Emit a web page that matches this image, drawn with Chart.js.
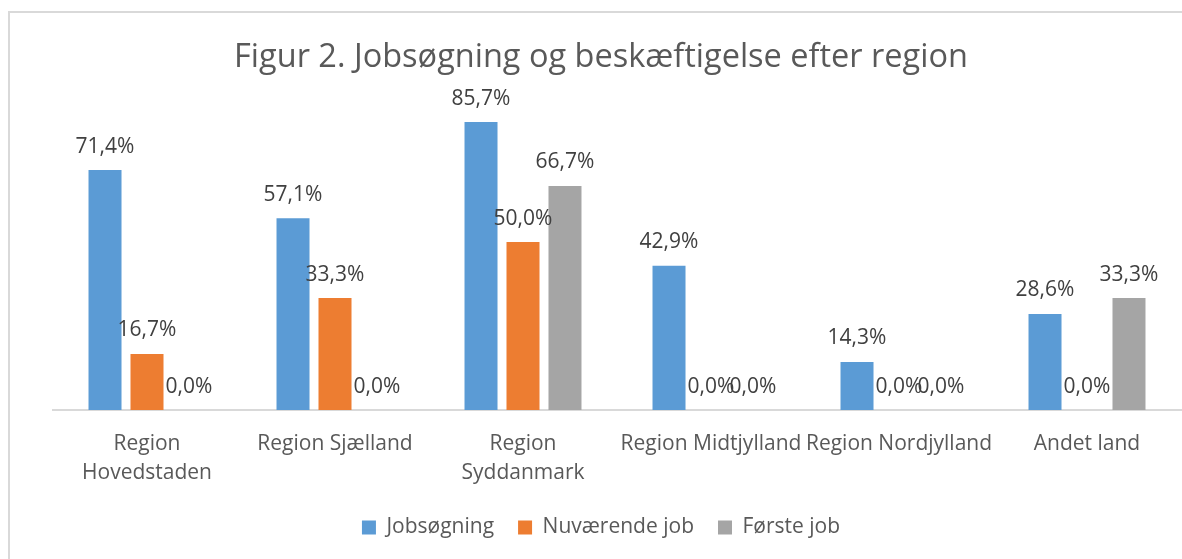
<!DOCTYPE html>
<html>
<head>
<meta charset="utf-8">
<script src="https://cdn.jsdelivr.net/npm/chart.js@4"></script>
<style>
  html, body { margin: 0; padding: 0; overflow: hidden; background: #fff; }
  #frame {
    position: absolute; left: 8px; top: 11px; width: 1400px; height: 800px;
    border-left: 2px solid #d9d9d9; border-top: 2px solid #d9d9d9;
  }
  #chart { position: absolute; left: 10px; top: 13px; }
</style>
</head>
<body>
<div id="frame"></div>
<canvas id="chart" width="1182" height="535"></canvas>
<script>
// data (percent)
const regions = [
  ["Region", "Hovedstaden"],
  "Region Sjælland",
  ["Region", "Syddanmark"],
  "Region Midtjylland",
  "Region Nordjylland",
  "Andet land",
];
const jobsogning = [71.4, 57.1, 85.7, 42.9, 14.3, 28.6];
const nuvaerendeJob = [16.7, 33.3, 50.0, 0.0, 0.0, 0.0];
const forsteJob = [0.0, 0.0, 66.7, 0.0, 0.0, 33.3];

const FONT = "'Open Sans', sans-serif";
const GREY_TEXT = "#595959";

function pct(v) {
  return v.toFixed(1).replace(".", ",") + "%";
}

// value labels above each bar (Excel "outside end" style)
const barLabels = {
  id: "barLabels",
  afterDatasetsDraw(chart) {
    const ctx = chart.ctx;
    ctx.save();
    ctx.font = "21px " + FONT;
    ctx.fillStyle = "#404040";
    ctx.textAlign = "center";
    ctx.textBaseline = "alphabetic";
    chart.data.datasets.forEach((ds, i) => {
      chart.getDatasetMeta(i).data.forEach((bar, j) => {
        ctx.fillText(pct(ds.data[j]), bar.x, bar.y - 17.5);
      });
    });
    ctx.restore();
  },
};

new Chart(document.getElementById("chart"), {
  type: "bar",
  data: {
    labels: regions,
    datasets: [
      { label: "Jobsøgning", data: jobsogning, backgroundColor: "#5B9BD5" },
      { label: "Nuværende job", data: nuvaerendeJob, backgroundColor: "#ED7D31" },
      { label: "Første job", data: forsteJob, backgroundColor: "#A5A5A5" },
    ],
  },
  options: {
    responsive: false,
    animation: false,
    events: [],
    borderWidth: 0,
    categoryPercentage: 0.67,
    barPercentage: 0.786,
    layout: { padding: 0 },
    plugins: {
      title: {
        display: true,
        text: "Figur 2. Jobsøgning og beskæftigelse efter region",
        color: GREY_TEXT,
        font: { family: FONT, size: 32.5, weight: "normal", lineHeight: 1.0 },
        padding: { top: 28.5, bottom: 0 },
      },
      legend: {
        position: "bottom",
        labels: {
          color: GREY_TEXT,
          font: { family: FONT, size: 21 },
          boxWidth: 14,
          boxHeight: 14,
          padding: 24,
        },
      },
      tooltip: { enabled: false },
    },
    scales: {
      x: {
        grid: { display: false },
        border: { display: true, color: "#d9d9d9", width: 2 },
        ticks: {
          color: GREY_TEXT,
          font: { family: FONT, size: 21, lineHeight: 1.367 },
          padding: 12,
          maxRotation: 0,
          autoSkip: false,
        },
        afterFit(s) { s.height = 83; },
      },
      y: {
        min: 0,
        max: 100,
        grid: { display: false },
        border: { display: false },
        ticks: { display: false },
        afterFit(s) { s.width = 43; },
      },
      y2: {
        position: "right",
        display: true,
        grid: { display: false },
        border: { display: false },
        ticks: { display: false },
        afterFit(s) { s.width = 11; },
      },
    },
  },
  plugins: [barLabels],
});
</script>
</body>
</html>
